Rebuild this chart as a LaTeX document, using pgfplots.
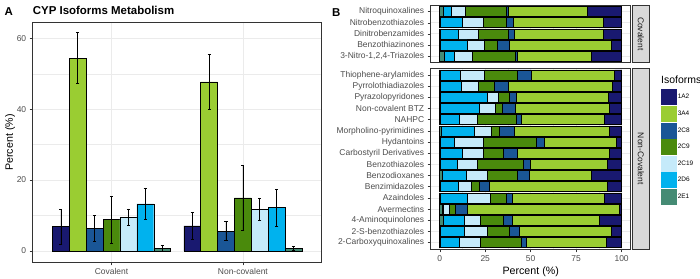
\documentclass[border=0pt]{standalone}
\usepackage{fontspec}
\setmainfont{Liberation Sans}
\usepackage{pgfplots}
\pgfplotsset{compat=1.18}
\usepackage{pgfplotstable}

\definecolor{cA}{HTML}{191970}
\definecolor{cB}{HTML}{9ACD32}
\definecolor{cC}{HTML}{1A5696}
\definecolor{cD}{HTML}{4A8A0C}
\definecolor{cE}{HTML}{C5EAFA}
\definecolor{cF}{HTML}{00B2EE}
\definecolor{cG}{HTML}{458B74}
\definecolor{g20}{HTML}{333333}
\definecolor{g30}{HTML}{4D4D4D}
\definecolor{g85}{HTML}{D9D9D9}
\definecolor{g92}{HTML}{EBEBEB}
\definecolor{g10}{HTML}{1A1A1A}

% Panel A: mean and error per isoform (x: 1 = Covalent, 2 = Non-covalent)
\pgfplotstableread{
x y e
1 6.9 4.9
2 7.1 3.75
}\tAa
\pgfplotstableread{
x y e
1 54.4 7.2
2 47.7 7.8
}\tAb
\pgfplotstableread{
x y e
1 6.4 3.6
2 5.6 2.7
}\tAc
\pgfplotstableread{
x y e
1 8.9 6.6
2 15.0 9.3
}\tAd
\pgfplotstableread{
x y e
1 9.5 2.35
2 11.8 3.2
}\tAe
\pgfplotstableread{
x y e
1 13.3 4.5
2 12.2 5.1
}\tAf
\pgfplotstableread{
x y e
1 0.75 0.75
2 0.75 0.65
}\tAg

% Panel B, covalent (y: 1 = bottom row)
\pgfplotstableread{
y E1 D6 C19 C9 C8 A4 A2
5 2.2 4.2 7.6 22.5 1.1 43.3 19.1
4 0.4 11.8 11.9 12.5 4.1 49.0 10.3
3 0.4 10.0 10.6 16.6 3.4 49.2 9.8
2 0.4 14.6 9.3 7.4 6.8 55.9 5.6
1 2.6 5.6 9.9 23.3 1.1 40.8 16.7
}\tCov

% Panel B, non-covalent
\pgfplotstableread{
y E1 D6 C19 C9 C8 A4 A2
16 0.4 10.9 13.3 18.2 7.7 45.6 3.9
15 0.4 11.3 9.6 8.6 7.8 57.1 5.2
14 0.4 25.5 6.4 5.8 4.2 50.6 7.1
13 0.4 21.5 8.9 3.7 6.9 51.9 6.7
12 0.4 10.4 9.6 21.9 2.7 45.6 9.4
11 0.8 18.4 9.1 4.5 8.2 52.3 6.7
10 0.5 7.7 15.9 29.1 4.2 39.8 2.8
9 0.4 11.8 11.7 11.0 7.9 50.7 6.5
8 0.4 9.5 10.9 24.9 4.1 42.3 7.9
7 1.6 12.8 11.7 16.7 6.2 34.5 16.5
6 0.4 10.0 6.9 4.6 5.3 65.2 7.6
5 0.4 14.6 12.7 8.7 3.6 50.4 9.6
4 1.3 0.7 3.4 3.0 6.6 83.6 1.4
3 1.7 11.9 8.9 12.5 5.0 47.9 12.1
2 0.4 13.1 12.4 12.6 5.2 50.5 5.8
1 0.4 10.3 11.4 22.5 3.0 44.2 8.2
}\tNon

\pgfplotsset{
  mystyle/.style={
    scale only axis,
    axis line style={draw=g20, line width=0.5bp},
    tick style={g20, line width=0.5bp},
    tick align=outside,
    major tick length=3bp,
    minor tick length=0pt,
    tick pos=left,
    grid=both,
    major grid style={g92, line width=0.7bp},
    minor grid style={g92, line width=0.35bp},
    ticklabel style={font=\fontsize{8.5}{10}\selectfont, text=g30},
    /pgf/number format/assume math mode=true,
    enlargelimits=false,
  },
  abar/.style={fill=#1, draw=black, line width=0.45bp,
    error bars/y dir=both, error bars/y explicit,
    error bars/error bar style={black, line width=0.55bp},
    error bars/error mark options={rotate=90, black, line width=0.55bp, mark size=1.6bp}},
  bbar/.style={fill=#1, draw=black, line width=0.6bp},
}

\begin{document}
\begin{tikzpicture}
\useasboundingbox (0,0) rectangle (700bp,-279bp);

% ---------- Panel A ----------
\begin{axis}[mystyle,
  at={(32.7bp,-22.7bp)}, anchor=north west,
  width=289bp, height=239.6bp,
  ybar, bar width=0.12857,
  xmin=0.4, xmax=2.6, ymin=-3.2, ymax=64.4,
  xtick={1,2}, xticklabels={Covalent,Non-covalent},
  ytick={0,20,40,60}, minor ytick={10,30,50},
  ylabel={Percent (\%)},
  every axis y label/.style={at={(rel axis cs:0,0.5)}, xshift=-22.7bp, rotate=90, anchor=center, font=\fontsize{10.7}{12}\selectfont},
]
\addplot[abar=cA, bar shift=-0.38571] table[x=x,y=y,y error=e]{\tAa};
\addplot[abar=cB, bar shift=-0.25714] table[x=x,y=y,y error=e]{\tAb};
\addplot[abar=cC, bar shift=-0.12857] table[x=x,y=y,y error=e]{\tAc};
\addplot[abar=cD, bar shift=0] table[x=x,y=y,y error=e]{\tAd};
\addplot[abar=cE, bar shift=0.12857] table[x=x,y=y,y error=e]{\tAe};
\addplot[abar=cF, bar shift=0.25714] table[x=x,y=y,y error=e]{\tAf};
\addplot[abar=cG, bar shift=0.38571] table[x=x,y=y,y error=e]{\tAg};
\end{axis}

% ---------- Panel B, covalent ----------
\begin{axis}[mystyle,
  at={(430.7bp,-5bp)}, anchor=north west,
  width=200bp, height=57.7bp,
  xbar stacked, bar width=0.9,
  xmin=-5, xmax=105, ymin=0.4, ymax=5.6,
  xtick={0,25,50,75,100}, minor xtick={12.5,37.5,62.5,87.5},
  xticklabels={}, xtick style={draw=none},
  ytick={1,2,3,4,5},
  yticklabels={{3-Nitro-1,2,4-Triazoles},Benzothiazinones,Dinitrobenzamides,Nitrobenzothiazoles,Nitroquinoxalines},
]
\addplot[bbar=cG] table[x=E1,y=y]{\tCov};
\addplot[bbar=cF] table[x=D6,y=y]{\tCov};
\addplot[bbar=cE] table[x=C19,y=y]{\tCov};
\addplot[bbar=cD] table[x=C9,y=y]{\tCov};
\addplot[bbar=cC] table[x=C8,y=y]{\tCov};
\addplot[bbar=cB] table[x=A4,y=y]{\tCov};
\addplot[bbar=cA] table[x=A2,y=y]{\tCov};
\end{axis}

% ---------- Panel B, non-covalent ----------
\begin{axis}[mystyle,
  at={(430.7bp,-68.3bp)}, anchor=north west,
  width=200bp, height=181bp,
  xbar stacked, bar width=0.9,
  xmin=-5, xmax=105, ymin=0.4, ymax=16.6,
  xtick={0,25,50,75,100}, minor xtick={12.5,37.5,62.5,87.5},
  ytick={1,...,16},
  yticklabels={2-Carboxyquinoxalines,2-S-benzothiazoles,4-Aminoquinolones,Avermectins,Azaindoles,Benzimidazoles,Benzodioxanes,Benzothiazoles,Carbostyril Derivatives,Hydantoins,Morpholino-pyrimidines,NAHPC,Non-covalent BTZ,Pyrazolopyridones,Pyrrolothiadiazoles,Thiophene-arylamides},
  xlabel={Percent (\%)},
  xlabel style={font=\fontsize{10.7}{12}\selectfont, yshift=2bp},
  reverse legend,
  legend image code/.code={\path[#1, draw=none] (0bp,-8bp) rectangle (15.7bp,8bp);},
  legend style={at={(rel axis cs:1.1515,0.883)}, anchor=north west, draw=none, fill=none,
    inner sep=0pt, outer sep=0pt, row sep=0.6bp, column sep=0.5bp,
    font=\fontsize{6.5}{7}\selectfont, nodes={inner sep=0.6bp}},
  legend cell align=left,
]
\addplot[bbar=cG] table[x=E1,y=y]{\tNon};
\addplot[bbar=cF] table[x=D6,y=y]{\tNon};
\addplot[bbar=cE] table[x=C19,y=y]{\tNon};
\addplot[bbar=cD] table[x=C9,y=y]{\tNon};
\addplot[bbar=cC] table[x=C8,y=y]{\tNon};
\addplot[bbar=cB] table[x=A4,y=y]{\tNon};
\addplot[bbar=cA] table[x=A2,y=y]{\tNon};
\legend{2E1,2D6,2C19,2C9,2C8,3A4,1A2}
\end{axis}

% strips
\draw[fill=g85, draw=g20, line width=0.5bp] (632.3bp,-5bp) rectangle (649.3bp,-62.7bp);
\node[rotate=-90, font=\fontsize{8.5}{10}\selectfont, text=g10, inner sep=0pt] at (640.8bp,-33.85bp) {Covalent};
\draw[fill=g85, draw=g20, line width=0.5bp] (632.3bp,-68.3bp) rectangle (649.3bp,-249.3bp);
\node[rotate=-90, font=\fontsize{8.5}{10}\selectfont, text=g10, inner sep=0pt] at (640.8bp,-158.8bp) {Non-Covalent};

% legend title
\node[anchor=west, inner sep=0pt, font=\fontsize{10.5}{12}\selectfont] at (661bp,-80bp) {Isoforms};

% titles
\node[anchor=base west, inner sep=0pt, font=\bfseries\fontsize{11.5}{13}\selectfont] at (32.7bp,-14bp) {CYP Isoforms Metabolism};
\node[anchor=base west, inner sep=0pt, font=\bfseries\fontsize{11.5}{13}\selectfont] at (4.5bp,-15bp) {A};
\node[anchor=base west, inner sep=0pt, font=\bfseries\fontsize{11.5}{13}\selectfont] at (332bp,-16.5bp) {B};
\end{tikzpicture}
\end{document}
